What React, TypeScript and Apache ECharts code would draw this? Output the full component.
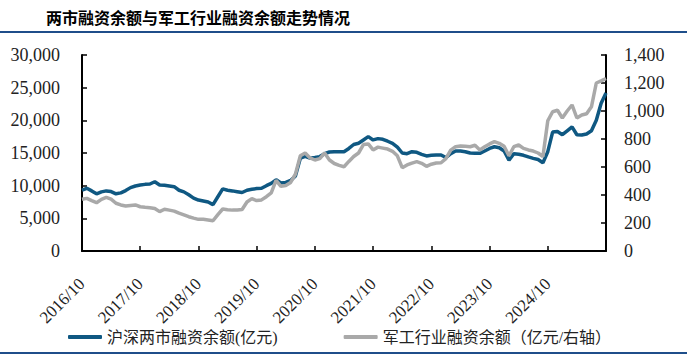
import React, { useEffect, useRef } from "react";
import * as echarts from "echarts";

const titleText = "两市融资余额与军工行业融资余额走势情况";
const seriesNames = ["沪深两市融资余额(亿元)", "军工行业融资余额（亿元/右轴）"];

// monthly categories 2016/10 .. 2025/10
const months: string[] = [];
for (let y = 2016; y <= 2025; y++) {
  for (let m = 1; m <= 12; m++) {
    if ((y === 2016 && m < 10) || (y === 2025 && m > 10)) continue;
    months.push(`${y}/${m}`);
  }
}

const marketMargin = [
  9300, 9600, 9200, 8750, 9050, 9200, 9100, 8750, 8900, 9250,
  9700, 9950, 10100, 10200, 10250, 10600, 10100, 10050, 9950, 9850,
  9300, 9050, 8600, 8100, 7800, 7650, 7500, 7100, 8300, 9500,
  9300, 9200, 9080, 8950, 9300, 9450, 9550, 9600, 10000, 10350,
  10900, 10400, 10500, 10800, 11500, 14200, 14500, 14200, 14300, 14450,
  14900, 15150, 15200, 15200, 15200, 15700, 16300, 16500, 17000, 17500,
  17000, 17200, 17100, 16800, 16480, 15900, 15000, 14900, 15200, 15100,
  14800, 14550, 14650, 14700, 14700, 14300, 14900, 15300, 15300, 15200,
  15000, 14950, 14950, 15300, 15700, 15960, 15800, 15300, 13900, 14900,
  14800, 14650, 14400, 14180, 14000, 13500, 15200, 18200, 18300, 17800,
  18400, 19000, 17800, 17750, 17900, 18400, 20000, 22600, 24200,
];

const defenseMargin = [
  369, 376, 360, 345, 369, 383, 370, 341, 329, 321,
  325, 329, 316, 312, 309, 304, 281, 298, 292, 285,
  270, 258, 245, 235, 226, 226, 222, 216, 260, 300,
  295, 292, 293, 296, 350, 374, 360, 365, 388, 415,
  505, 462, 468, 490, 550, 680, 700, 665, 650, 660,
  700, 650, 625, 612, 602, 640, 675, 700, 760, 765,
  722, 742, 735, 728, 712, 680, 595, 615, 628, 638,
  626, 605, 620, 628, 630, 660, 720, 745, 750, 748,
  745, 755, 722, 745, 765, 781, 769, 748, 680, 745,
  757, 733, 722, 714, 700, 675, 930, 995, 1005, 950,
  1000, 1043, 950, 971, 980, 1030, 1200, 1215, 1232,
];

const BLUE = "#0F5882";
const GRAY = "#A9A9A9";
const NUM_FONT = "'Liberation Serif', 'Times New Roman', serif";
const CJK_FONT = "'Liberation Serif', 'Noto Sans CJK SC', serif";

const fmt = (v: number) => v.toLocaleString("en-US");

export default function App() {
  const ref = useRef<HTMLDivElement>(null);
  useEffect(() => {
    if (!ref.current) return;
    const chart = echarts.init(ref.current, undefined, { renderer: "svg" });
    const axisLine = { show: true, lineStyle: { color: "#000", width: 2 } };
    const axisTick = { show: true, inside: true, length: 5, lineStyle: { color: "#000", width: 1.5 } };
    chart.setOption({
      animation: false,
      backgroundColor: "#fff",
      title: {
        text: titleText,
        left: 41,
        top: 4,
        textStyle: { fontSize: 16, fontWeight: "bold", color: "#000", fontFamily: "'Noto Sans CJK SC', sans-serif" },
      },
      graphic: [
        { type: "rect", shape: { x: 0, y: 31, width: 687, height: 2 }, style: { fill: "#1F4E8A" } },
        { type: "rect", shape: { x: 0, y: 352, width: 687, height: 2 }, style: { fill: "#1F4E8A" } },
      ],
      legend: {
        left: 63,
        top: 324,
        icon: "roundRect",
        itemWidth: 34,
        itemHeight: 4,
        itemGap: 66,
        textStyle: { fontSize: 16, color: "#222", fontFamily: CJK_FONT },
        data: seriesNames,
      },
      grid: { left: 82, right: 81, top: 55, bottom: 104, containLabel: false },
      xAxis: {
        type: "category",
        data: months,
        boundaryGap: false,
        axisLine,
        axisTick: { ...axisTick, interval: (i: number) => i % 12 === 0 },
        axisLabel: {
          interval: (i: number) => i % 12 === 0 && i < 108,
          rotate: 45,
          margin: 30,
          fontSize: 17,
          color: "#222",
          fontFamily: NUM_FONT,
        },
        splitLine: { show: false },
      },
      yAxis: [
        {
          type: "value",
          min: 0,
          max: 30000,
          interval: 5000,
          axisLine,
          axisTick,
          splitLine: { show: false },
          axisLabel: { formatter: fmt, margin: 22, fontSize: 18, color: "#222", fontFamily: NUM_FONT },
        },
        {
          type: "value",
          position: "right",
          min: 0,
          max: 1400,
          interval: 200,
          axisLine,
          axisTick,
          splitLine: { show: false },
          axisLabel: { formatter: fmt, margin: 18, fontSize: 18, color: "#222", fontFamily: NUM_FONT },
        },
      ],
      series: [
        {
          name: seriesNames[0],
          type: "line",
          yAxisIndex: 0,
          data: marketMargin,
          showSymbol: false,
          symbol: "none",
          lineStyle: { color: BLUE, width: 3.5 },
          itemStyle: { color: BLUE },
        },
        {
          name: seriesNames[1],
          type: "line",
          yAxisIndex: 1,
          data: defenseMargin,
          showSymbol: false,
          symbol: "none",
          lineStyle: { color: GRAY, width: 3.5 },
          itemStyle: { color: GRAY },
        },
      ],
    });
    return () => chart.dispose();
  }, []);
  return (
    <div
      ref={ref}
      style={{ position: "fixed", left: 0, top: 0, width: 687, height: 355, background: "#fff" }}
    />
  );
}
